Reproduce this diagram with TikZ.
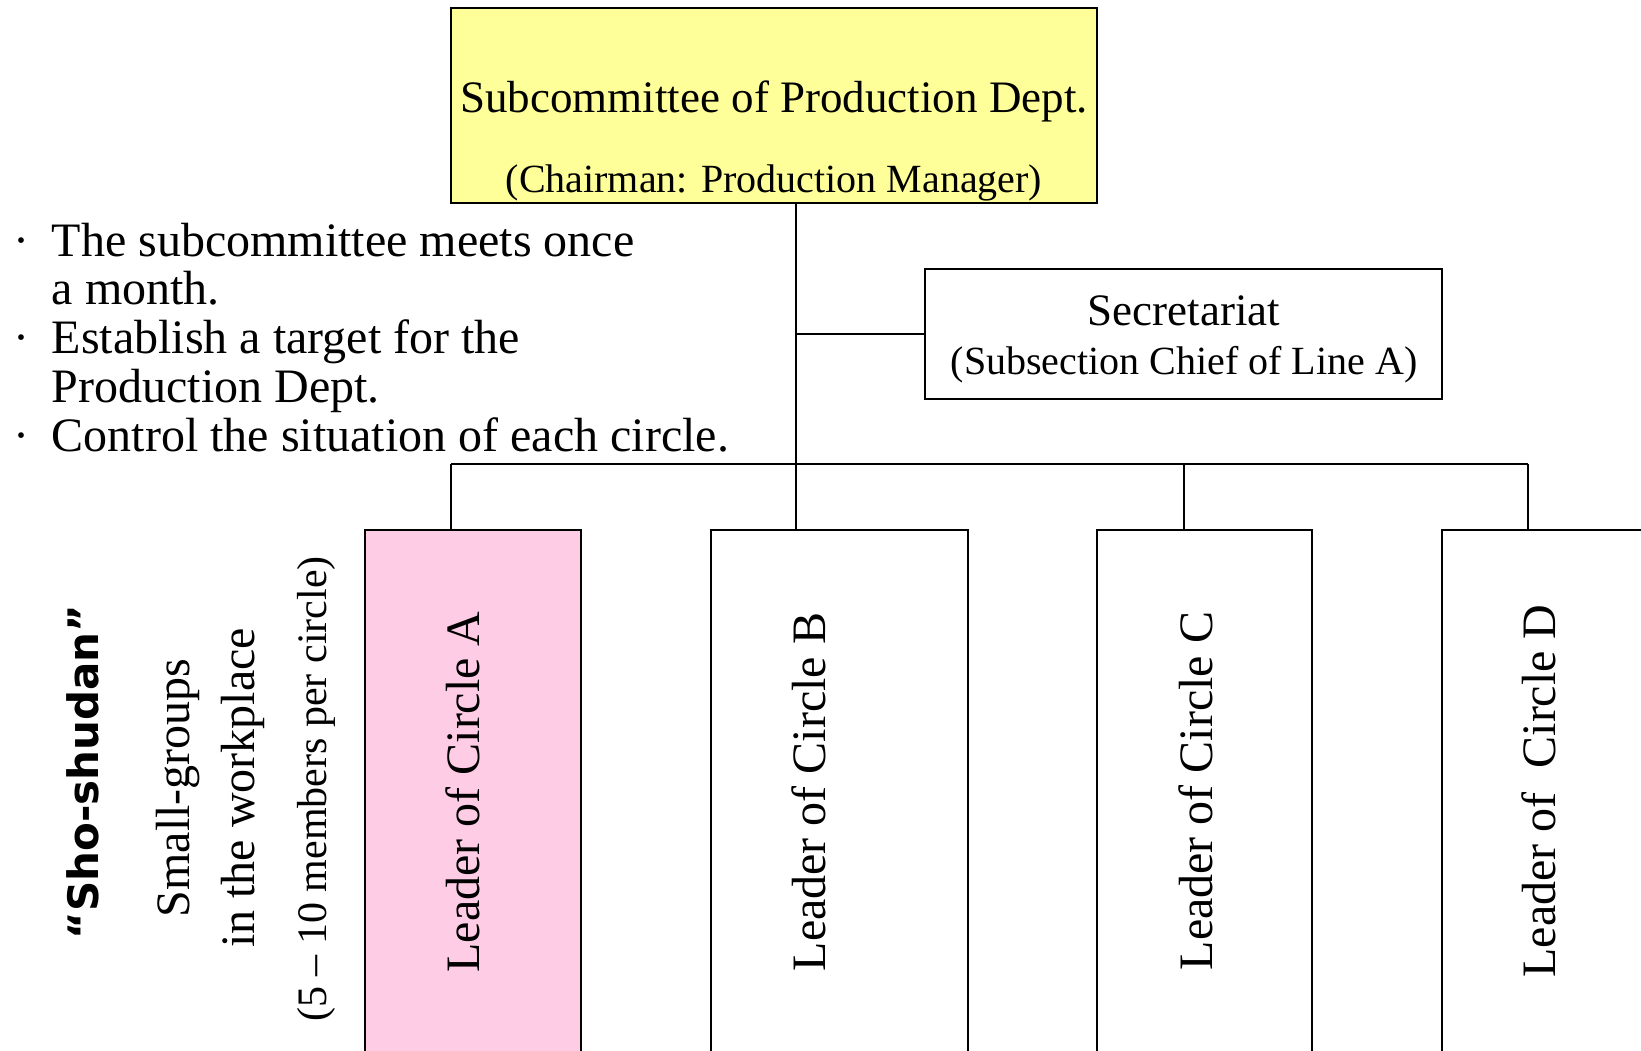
\documentclass[tikz,border=0pt]{standalone}
\usepackage{fontspec}
\setmainfont{Liberation Serif}
\newfontfamily\heavysans{DejaVu Sans}
\usetikzlibrary{calc}
\definecolor{subyellow}{RGB}{255,255,153}
\definecolor{leadpink}{RGB}{255,204,230}
\newcommand{\fs}[1]{\fontsize{#1}{#1}\selectfont}

\begin{document}
\begin{tikzpicture}[x=1pt, y=-1pt, line width=1.6pt,
    box/.style={draw, rectangle, inner sep=0pt},
    txt/.style={anchor=base, inner sep=0pt},
    vtext/.style={rotate=90, anchor=base, inner sep=0pt, font=\fs{48}},
    bul/.style={anchor=base west, inner sep=0pt, font=\fs{48}}]
  \useasboundingbox (0,0) rectangle (1641,1050);
  \clip (0,0) rectangle (1641,1050);
  % committee and secretariat
  \node[box, fill=subyellow, minimum width=646pt, minimum height=195pt] (sub) at (774,105.5) {};
  \node[txt, font=\fs{45}] (subT) at (774,112) {Subcommittee of Production Dept.};
  \node[txt, font=\fs{40}] (subC) at (774,192) {(Chairman: Production Manager)};
  \node[box, minimum width=517pt, minimum height=130pt] (sec) at (1183.5,334) {};
  \node[txt, font=\fs{45}] (secT) at (1184,325) {Secretariat};
  \node[txt, font=\fs{40}] (secC) at (1184,374) {(Subsection Chief of Line A)};
  % notes
  \node[bul] (d1) at (13,256) {·};
  \node[bul] (d3) at (13,353.5) {·};
  \node[bul] (d5) at (13,451) {·};
  \node[bul] (t1) at (51,256) {The subcommittee meets once};
  \node[bul] (t2) at (51,304.75) {a month.};
  \node[bul] (t3) at (51,353.5) {Establish a target for the};
  \node[bul] (t4) at (51,402.25) {Production Dept.};
  \node[bul] (t5) at (51,451) {Control the situation of each circle.};
  % circle leaders
  \node[box, fill=leadpink, minimum width=216pt, minimum height=530pt] (cA) at (473,795) {};
  \node[box, minimum width=257pt, minimum height=530pt] (cB) at (839.5,795) {};
  \node[box, minimum width=215pt, minimum height=530pt] (cC) at (1204.5,795) {};
  \node[box, minimum width=218pt, minimum height=530pt] (cD) at (1551,795) {};
  \node[vtext] (lA) at (479,792) {Leader of Circle A};
  \node[vtext] (lB) at (825,792) {Leader of Circle B};
  \node[vtext] (lC) at (1212,791) {Leader of Circle C};
  \node[vtext] (lD) at (1555,791) {Leader of\ \ Circle D};
  % left side
  \node[vtext, font=\heavysans\bfseries\fs{42}] (sho) at (98,772) {“Sho-shudan”};
  \node[vtext] (sg1) at (189,788) {Small-groups};
  \node[vtext] (sg2) at (254,788) {in the workplace};
  \node[vtext, font=\fs{42}] (sg3) at (326,789) {(5 – 10 members per circle)};
  % lines
  \coordinate (hub) at (796,464);
  \coordinate (bA) at (451,464);
  \coordinate (bC) at (1184,464);
  \coordinate (bD) at (1528,464);
  \draw (sub.south -| hub) -- (hub);
  \draw (sec.west -| hub) -- (sec.west);
  \draw (bA) -- (bD);
  \foreach \b/\c in {bA/cA,hub/cB,bC/cC,bD/cD} \draw (\b) -- (\b |- \c.north);
\end{tikzpicture}
\end{document}
